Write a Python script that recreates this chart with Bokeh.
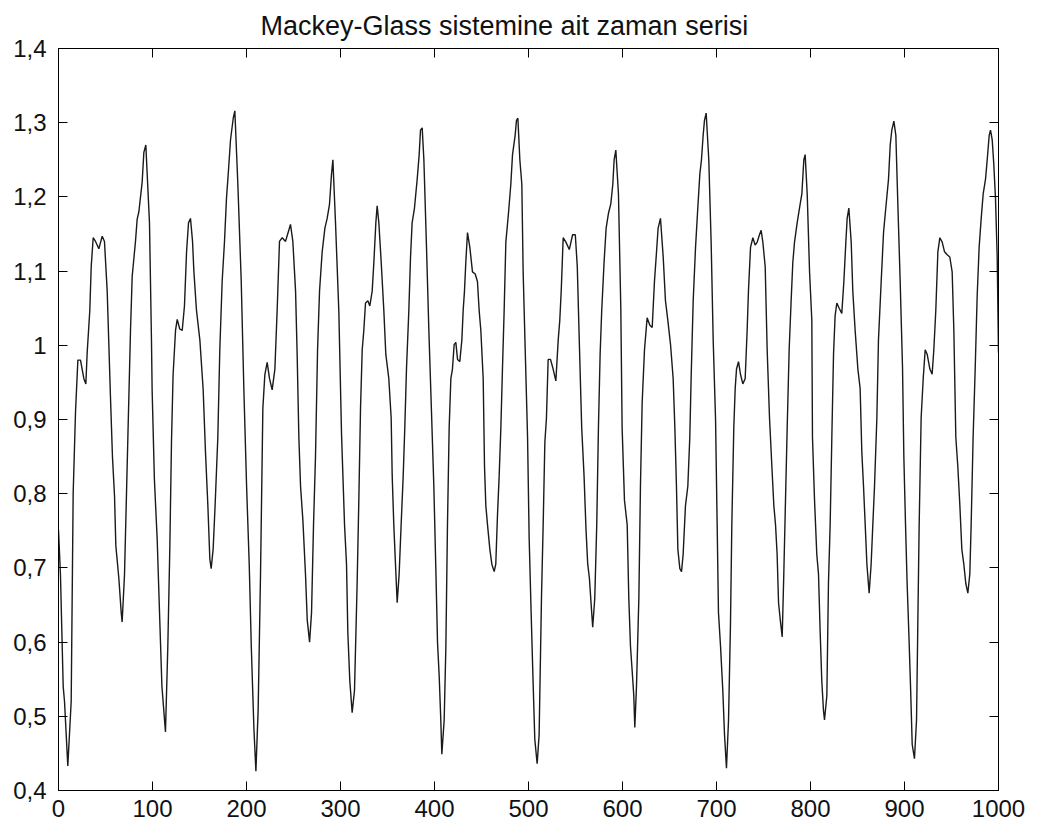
from bokeh.plotting import figure
from bokeh.models import FixedTicker, LinearAxis, Range1d
from bokeh.embed import file_html
from bokeh.resources import INLINE

# Mackey-Glass time series, sampled at the turning points and shoulders of the curve
t = [0, 2.1, 5.0, 6.4, 9.9, 13.5, 15.6, 18.1, 20.6, 23.4, 27.0, 29.1, 30.5, 33.3, 34.8,
     36.9, 39.4, 42.9, 46.5, 48.9, 51.8, 55.3, 57.4, 59.6, 61.0, 64.2, 66.7, 67.7, 70.2,
     73.8, 76.6, 78.4, 81.9, 83.7, 85.5, 89.0, 90.8, 92.9, 96.8, 98.9, 99.6, 102, 105,
     107.8, 110, 112.8, 113.8, 116.3, 118.4, 120.2, 121.9, 124.5, 126.3, 129, 131.6, 134,
     136.2, 138.3, 140.4, 142.6, 144, 146.8, 150.4, 153.9, 156.4, 158.9, 161, 162.4, 164.5,
     166.6, 169.5, 171.6, 174.1, 176.6, 178.7, 180.9, 183, 185.9, 187.6, 190.8, 194.4,
     197.2, 200.1, 202.9, 205.1, 207.9, 210, 212.4, 214.9, 217.4, 219.5, 222, 224.5, 227.3,
     230.2, 232.6, 235.1, 238, 241.5, 244.3, 246.8, 249.3, 252.2, 253.9, 255.7, 257.5, 260,
     262.8, 264.6, 267.1, 269.2, 271.3, 273.4, 275.6, 277.7, 280.5, 283.4, 285.8, 288.3,
     290.4, 291.9, 294.7, 298.2, 301.1, 304.3, 306.4, 307.8, 309.9, 312.4, 314.9, 317.7,
     319.5, 321.3, 323.1, 324.8, 326.6, 329.1, 331.2, 333.7, 335.5, 337.6, 339, 340.8,
     343.3, 346.1, 348.2, 351.4, 353.9, 355, 356.7, 358.5, 360.3, 362.4, 364.5, 366.7,
     368.4, 370.2, 372.7, 374.5, 376.2, 378.7, 381.6, 383.7, 385.1, 386.9, 388.7, 391.5,
     394, 396.5, 399.3, 401.4, 403.2, 405, 406.7, 407.8, 410.3, 412.1, 413.8, 415.6, 417.4,
     419.1, 420.9, 422.7, 424.5, 426.9, 429.1, 430.5, 431.9, 433.3, 435.1, 437.6, 440.4,
     443.3, 445.7, 447.5, 449.3, 451.8, 453.2, 454.6, 456.4, 458.9, 461, 463.5, 465.2, 467,
     468.8, 470.6, 472.3, 474.1, 475.9, 478.7, 481.2, 483, 485.8, 487.2, 488.7, 490.8,
     492.9, 494.3, 496.5, 499, 500.7, 502.8, 505, 506.7, 509.2, 511.3, 513.8, 515.6, 517.4,
     519.1, 520.9, 523.4, 526.2, 529.1, 531.6, 533.3, 534.8, 536.9, 539.8, 543.4, 546.9,
     549.8, 551.9, 554, 556.6, 559.1, 561.2, 563, 564.8, 566.2, 568.3, 570.5, 572.6, 574.4,
     576.2, 577.9, 580.4, 582.6, 585.1, 587.6, 589.7, 591.1, 592.9, 595.7, 598.2, 599.6,
     602.1, 605, 606.7, 608.5, 610.3, 612, 613.1, 614.9, 617.4, 619.1, 620.9, 623.4, 626.2,
     629.1, 631.6, 634, 636.2, 637.9, 640.4, 643.3, 645.7, 648.2, 651.1, 653.9, 655.7,
     657.4, 658.9, 661, 662.8, 664.5, 667, 669.5, 671.6, 673, 675.2, 677.7, 680.1, 682.3,
     684, 685.8, 687.2, 689, 691.8, 694.3, 696.5, 699, 700.7, 702.1, 704.3, 706.7, 708.5,
     710.6, 712.8, 714.9, 716.3, 718.4, 719.9, 721.3, 723.4, 725.5, 728, 730.5, 732.6, 734,
     736.2, 738.7, 741.1, 743.3, 745.7, 747.5, 749.3, 751.8, 753.9, 756.4, 758.9, 761,
     762.8, 764.5, 766, 768.1, 769.9, 771.6, 773.4, 775.2, 777.3, 779.4, 781.2, 783, 785.8,
     788.3, 790.8, 792.9, 794.3, 796.5, 799, 801.4, 802.1, 804.3, 806.7, 808.5, 810.3, 812,
     813.8, 814.9, 817.4, 819.1, 820.9, 822.7, 824.5, 826.2, 828, 830.5, 833.3, 835.5,
     837.6, 839, 840.8, 843.3, 845, 847.5, 850.4, 852.8, 854.6, 856.4, 858.2, 860, 862.4,
     864.5, 866.3, 868.1, 870.6, 872.3, 875.2, 877.7, 880.1, 883, 884.8, 886.5, 888.7,
     890.8, 892.9, 895.4, 897.9, 899.3, 901.1, 902.8, 904.6, 906.4, 908.2, 910.6, 912.8,
     914.2, 915.6, 917.7, 919.9, 922, 924.1, 927, 929.4, 931.2, 933.3, 935.5, 937.6, 940.1,
     942.6, 945.4, 948.2, 950.7, 952.5, 954.6, 956.7, 958.9, 961, 963.1, 965.2, 967.4,
     969.5, 970.9, 973, 975.2, 977.3, 979.4, 981.6, 983.7, 986.2, 988, 990.1, 991.5, 993.3,
     995, 996.8, 998.6, 1000]

x_t = [0.751, 0.69, 0.54, 0.52, 0.433, 0.52, 0.80, 0.91, 0.98, 0.98, 0.955, 0.948, 0.99,
       1.047, 1.106, 1.145, 1.14, 1.13, 1.147, 1.14, 1.073, 0.93, 0.85, 0.797, 0.73, 0.686,
       0.64, 0.627, 0.69, 0.876, 1.02, 1.093, 1.14, 1.17, 1.18, 1.22, 1.26, 1.27, 1.165,
       1.007, 0.94, 0.82, 0.738, 0.627, 0.541, 0.495, 0.479, 0.594, 0.725, 0.87, 0.96, 1.02,
       1.035, 1.022, 1.02, 1.053, 1.125, 1.165, 1.171, 1.14, 1.1, 1.047, 1.007, 0.94, 0.855,
       0.784, 0.712, 0.699, 0.725, 0.784, 0.876, 0.994, 1.086, 1.14, 1.198, 1.237, 1.277,
       1.306, 1.316, 1.217, 1.086, 0.94, 0.81, 0.705, 0.594, 0.483, 0.426, 0.509, 0.69,
       0.915, 0.96, 0.977, 0.955, 0.94, 0.968, 1.047, 1.14, 1.145, 1.14, 1.152, 1.163, 1.14,
       1.073, 0.987, 0.876, 0.81, 0.764, 0.69, 0.63, 0.6, 0.64, 0.758, 0.85, 0.994, 1.073,
       1.126, 1.158, 1.171, 1.19, 1.23, 1.25, 1.165, 1.047, 0.88, 0.758, 0.705, 0.613, 0.548,
       0.505, 0.535, 0.679, 0.791, 0.915, 0.994, 1.02, 1.057, 1.06, 1.053, 1.073, 1.112,
       1.165, 1.188, 1.165, 1.112, 1.047, 0.988, 0.955, 0.902, 0.824, 0.758, 0.705, 0.653,
       0.692, 0.758, 0.824, 0.889, 0.968, 1.047, 1.119, 1.165, 1.185, 1.224, 1.257, 1.29,
       1.293, 1.25, 1.132, 1.02, 0.922, 0.81, 0.70, 0.60, 0.554, 0.495, 0.449, 0.495, 0.594,
       0.758, 0.889, 0.955, 0.968, 1.001, 1.004, 0.981, 0.978, 1.007, 1.047, 1.073, 1.112,
       1.152, 1.132, 1.099, 1.096, 1.086, 1.047, 1.02, 0.955, 0.837, 0.784, 0.758, 0.725,
       0.705, 0.695, 0.705, 0.771, 0.824, 0.889, 0.968, 1.047, 1.139, 1.178, 1.217, 1.257,
       1.283, 1.303, 1.306, 1.25, 1.217, 1.099, 0.994, 0.876, 0.74, 0.64, 0.541, 0.469,
       0.436, 0.475, 0.659, 0.758, 0.869, 0.902, 0.981, 0.981, 0.968, 0.952, 1.007, 1.034,
       1.073, 1.145, 1.139, 1.129, 1.149, 1.149, 1.106, 1.007, 0.889, 0.824, 0.751, 0.705,
       0.686, 0.659, 0.62, 0.659, 0.758, 0.889, 0.988, 1.047, 1.112, 1.158, 1.178, 1.191,
       1.217, 1.25, 1.263, 1.204, 1.05, 0.889, 0.791, 0.758, 0.659, 0.594, 0.561, 0.528,
       0.485, 0.541, 0.659, 0.81, 0.922, 0.994, 1.037, 1.027, 1.024, 1.086, 1.126, 1.158,
       1.171, 1.119, 1.06, 1.034, 1.001, 0.955, 0.889, 0.81, 0.725, 0.699, 0.695, 0.718,
       0.784, 0.81, 0.876, 0.955, 1.06, 1.132, 1.185, 1.231, 1.25, 1.283, 1.303, 1.313, 1.25,
       1.139, 1.006, 0.9, 0.758, 0.64, 0.594, 0.535, 0.476, 0.43, 0.495, 0.626, 0.758, 0.889,
       0.942, 0.968, 0.978, 0.961, 0.948, 0.955, 1.02, 1.073, 1.132, 1.145, 1.135, 1.139,
       1.149, 1.155, 1.139, 1.106, 0.994, 0.902, 0.837, 0.784, 0.758, 0.718, 0.653, 0.627,
       0.607, 0.692, 0.791, 0.889, 0.994, 1.06, 1.112, 1.139, 1.165, 1.185, 1.204, 1.25,
       1.257, 1.204, 1.099, 1.034, 0.876, 0.791, 0.718, 0.692, 0.613, 0.548, 0.508, 0.495,
       0.528, 0.679, 0.758, 0.876, 0.988, 1.04, 1.057, 1.05, 1.043, 1.086, 1.139, 1.171,
       1.185, 1.139, 1.073, 1.02, 0.968, 0.942, 0.856, 0.81, 0.758, 0.705, 0.666, 0.705,
       0.758, 0.81, 0.902, 1.007, 1.086, 1.152, 1.185, 1.224, 1.27, 1.29, 1.302, 1.283,
       1.191, 1.086, 0.97, 0.85, 0.758, 0.679, 0.613, 0.541, 0.462, 0.443, 0.495, 0.627,
       0.758, 0.902, 0.955, 0.994, 0.988, 0.968, 0.961, 0.994, 1.047, 1.126, 1.145, 1.139,
       1.126, 1.122, 1.119, 1.099, 1.02, 0.876, 0.837, 0.784, 0.725, 0.705, 0.679, 0.666,
       0.692, 0.758, 0.876, 0.968, 1.066, 1.132, 1.171, 1.204, 1.224, 1.25, 1.283, 1.29,
       1.277, 1.244, 1.198, 1.12, 0.99]

x_ticks = [0, 100, 200, 300, 400, 500, 600, 700, 800, 900, 1000]
y_ticks = [0.4, 0.5, 0.6, 0.7, 0.8, 0.9, 1.0, 1.1, 1.2, 1.3, 1.4]
y_tick_labels = ["0,4", "0,5", "0,6", "0,7", "0,8", "0,9", "1", "1,1", "1,2", "1,3", "1,4"]
title_text = "Mackey-Glass sistemine ait zaman serisi"

FONT = "Liberation Sans"

p = figure(width=1037, height=834, output_backend="svg", toolbar_location=None,
           x_range=Range1d(0, 1000), y_range=Range1d(0.4, 1.4),
           min_border_left=58, min_border_right=39, min_border_top=48,
           min_border_bottom=44, x_axis_location=None, y_axis_location=None)

p.title.text = title_text
p.title.align = "left"
p.title.offset = 202
p.title.vertical_align = "bottom"
p.title.text_font = FONT
p.title.text_font_size = "27px"
p.title.text_font_style = "normal"
p.title.text_color = "#111111"
p.title.standoff = 15

p.xgrid.visible = False
p.ygrid.visible = False
p.outline_line_color = "black"
p.outline_line_width = 1
p.background_fill_color = "white"
p.border_fill_color = "white"


def style_axis(ax, show_labels):
    ax.axis_line_color = "black"
    ax.major_tick_in = 9
    ax.major_tick_out = 0
    ax.minor_tick_line_color = None
    ax.major_tick_line_color = "black"
    if show_labels:
        ax.major_label_text_font = FONT
        ax.major_label_text_font_size = "24px"
        ax.major_label_text_color = "#111111"
    else:
        # mirrored tick marks only, without labels
        ax.major_label_text_font_size = "1px"
        ax.major_label_text_color = None
        ax.major_label_standoff = 0


xb = LinearAxis(ticker=FixedTicker(ticks=x_ticks))
style_axis(xb, True)
xb.major_label_standoff = 9
p.add_layout(xb, "below")

xa = LinearAxis(ticker=FixedTicker(ticks=x_ticks))
style_axis(xa, False)
p.add_layout(xa, "above")

yl = LinearAxis(ticker=FixedTicker(ticks=y_ticks))
style_axis(yl, True)
yl.major_label_standoff = 12
yl.major_label_overrides = dict(zip(y_ticks, y_tick_labels))
p.add_layout(yl, "left")

yr = LinearAxis(ticker=FixedTicker(ticks=y_ticks))
style_axis(yr, False)
p.add_layout(yr, "right")

p.line(t, x_t, line_color="#1a1a1a", line_width=1.4)

open("out.html", "w").write(file_html(p, INLINE))
